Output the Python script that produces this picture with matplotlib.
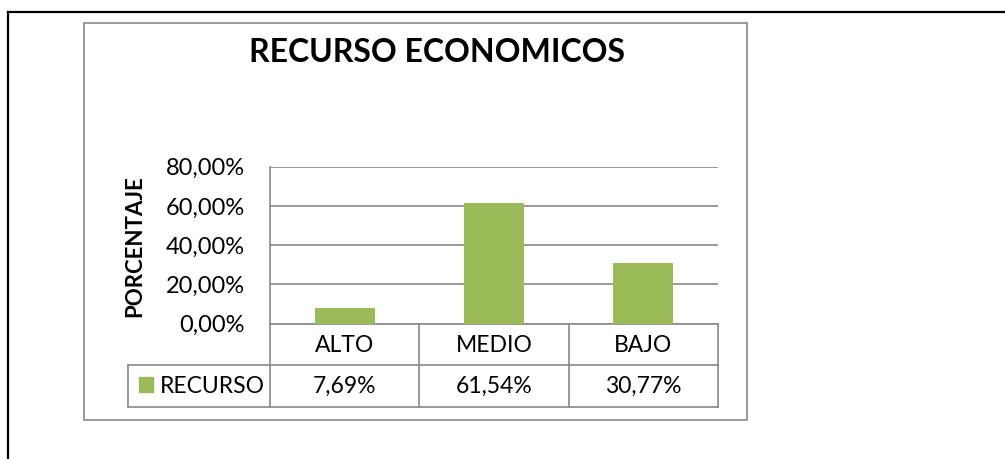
import matplotlib
matplotlib.use("Agg")
from matplotlib import pyplot as plt
from matplotlib.patches import Rectangle

# data
categories = ["ALTO", "MEDIO", "BAJO"]
values = [7.69, 61.54, 30.77]
series_name = "RECURSO"
title = "RECURSO ECONOMICOS"
ylabel = "PORCENTAJE"
yticks = [0, 20, 40, 60, 80]

green = "#9BBB59"
grey = "#898989"
W, H = 1005, 459

plt.rcParams['font.family'] = ['Lato', 'DejaVu Sans']

def pct(v):
    return f"{v:.2f}%".replace(".", ",")

fig = plt.figure(figsize=(W / 100, H / 100), dpi=100)

# overlay in pixel coordinates for frames and the data table
bg = fig.add_axes([0, 0, 1, 1])
bg.set_xlim(0, W)
bg.set_ylim(H, 0)
bg.axis("off")

# outer black page border (top and left)
bg.plot([7.5, W], [12, 12], color="black", lw=1.6)
bg.plot([7.5, 7.5], [12, H], color="black", lw=1.6)

# chart frame
bg.add_patch(Rectangle((83.5, 22.5), 663.5, 397.5, fill=False, ec=grey, lw=1.2))

bg.text(437, 53, title, ha="center", va="center", fontsize=23, fontweight="bold")
bg.text(135, 246, ylabel, ha="center", va="center", rotation=90,
        fontsize=16, fontweight="bold")

# plot area
px0, px1, ptop, pbot = 270, 718, 166.7, 323.5
ax = fig.add_axes([px0 / W, 1 - pbot / H, (px1 - px0) / W, (pbot - ptop) / H])
x = range(len(categories))
ax.bar(x, values, width=0.4, color=green, zorder=3)
ax.set_xlim(-0.5, len(categories) - 0.5)
ax.set_ylim(0, 80)
ax.set_yticks(yticks)
ax.set_yticklabels([pct(t) for t in yticks], fontsize=17)
ax.set_xticks([])
ax.tick_params(axis="y", length=0, pad=18)
ax.yaxis.grid(True, color=grey, lw=1.2)
for s in ["top", "right", "bottom"]:
    ax.spines[s].set_visible(False)
ax.spines["left"].set_color(grey)
ax.spines["left"].set_linewidth(1.2)
ax.patch.set_alpha(0)

# data table under the bars
row0, row1, row2 = 323.5, 364.5, 406.5
cell_w = (px1 - px0) / len(categories)
leg_x = 128
bg.plot([px0, px1], [row0, row0], color=grey, lw=1.2)
bg.plot([leg_x, px1], [row1, row1], color=grey, lw=1.2)
bg.plot([leg_x, px1], [row2, row2], color=grey, lw=1.2)
bg.plot([leg_x, leg_x], [row1, row2], color=grey, lw=1.2)
for i in range(len(categories) + 1):
    xx = px0 + i * cell_w
    bg.plot([xx, xx], [row0, row2], color=grey, lw=1.2)
for i, (c, v) in enumerate(zip(categories, values)):
    cx = px0 + (i + 0.5) * cell_w
    bg.text(cx, (row0 + row1) / 2 + 1, c, ha="center", va="center", fontsize=16.5)
    bg.text(cx, (row1 + row2) / 2 + 1, pct(v), ha="center", va="center", fontsize=16.5)
bg.add_patch(Rectangle((138.5, 377), 14, 15, color=green))
bg.text(160, (row1 + row2) / 2 + 1, series_name, ha="left", va="center", fontsize=16.5)

fig.savefig("out.png", dpi=100)
